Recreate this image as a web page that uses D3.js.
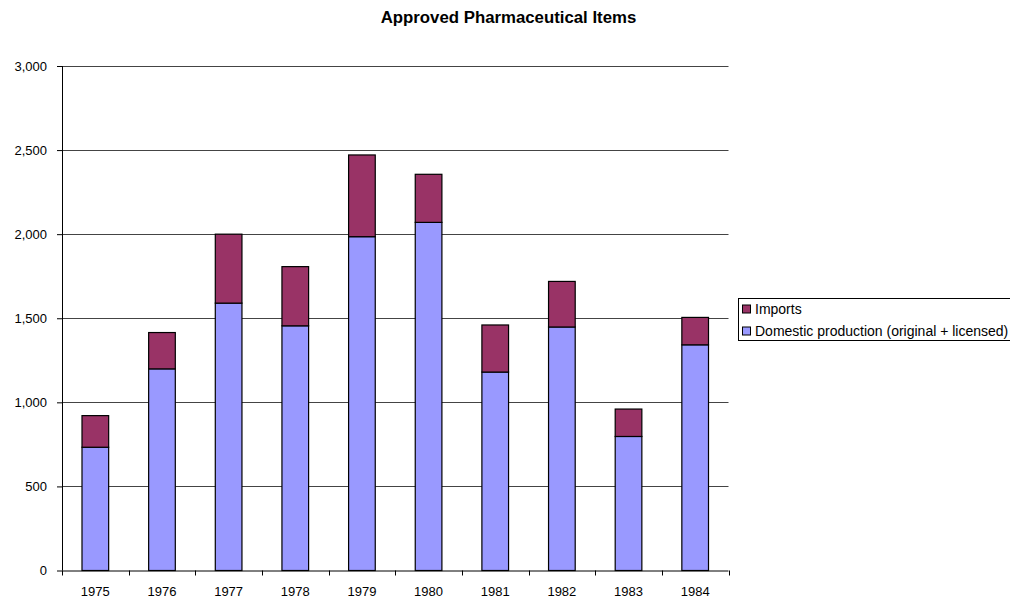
<!DOCTYPE html>
<html>
<head>
<meta charset="utf-8">
<script src="https://cdn.jsdelivr.net/npm/d3@7"></script>
<style>
  html, body { margin: 0; padding: 0; background: #fff; }
  svg { display: block; font-family: "Liberation Sans", Arial, sans-serif; }
</style>
</head>
<body>
<svg id="chart" width="1010" height="599"></svg>
<script>
// Approved pharmaceutical items per year, split by origin
const years = ["1975", "1976", "1977", "1978", "1979", "1980", "1981", "1982", "1983", "1984"];
const domestic = [733, 1199, 1590, 1455, 1985, 2070, 1180, 1448, 797, 1342];
const imports = [188, 216, 410, 352, 486, 286, 280, 271, 163, 163];
const yTicks = [0, 500, 1000, 1500, 2000, 2500, 3000];
const seriesNames = ["Domestic production (original + licensed)", "Imports"];
const seriesColors = ["#9999FF", "#993366"];

const svg = d3.select("#chart");
const plotLeft = 62, plotRight = 728.5, plotTop = 66, plotBottom = 570.5;

const x = d3.scaleBand().domain(years).range([plotLeft, plotRight]).paddingInner(0.6).paddingOuter(0.3);
const xBand = d3.scaleBand().domain(years).range([plotLeft, plotRight]);
const y = d3.scaleLinear().domain([0, 3000]).range([plotBottom, plotTop]);

// Title
svg.append("text")
  .attr("x", 508.5).attr("y", 23)
  .attr("text-anchor", "middle")
  .attr("font-size", 16.8).attr("font-weight", "bold")
  .text("Approved Pharmaceutical Items");

// Gridlines
svg.append("g").selectAll("line")
  .data(yTicks.filter(d => d > 0))
  .join("line")
  .attr("x1", plotLeft).attr("x2", plotRight)
  .attr("y1", d => Math.round(y(d)) + 0.5).attr("y2", d => Math.round(y(d)) + 0.5)
  .attr("stroke", "#444").attr("stroke-width", 1);

// Stacked bars
const rows = years.map((yr, i) => ({ year: yr, domestic: domestic[i], imports: imports[i] }));
const stack = d3.stack().keys(["domestic", "imports"])(rows);

svg.append("g").selectAll("g")
  .data(stack)
  .join("g")
  .attr("fill", (d, i) => seriesColors[i])
  .selectAll("rect")
  .data(d => d)
  .join("rect")
  .attr("x", d => x(d.data.year))
  .attr("width", x.bandwidth())
  .attr("y", d => y(d[1]))
  .attr("height", d => y(d[0]) - y(d[1]))
  .attr("stroke", "#000").attr("stroke-width", 1.2);

// Y axis
const yAxis = d3.axisLeft(y).tickValues(yTicks).tickSize(5).tickPadding(10)
  .tickFormat(d3.format(","));
const gy = svg.append("g").attr("transform", `translate(${plotLeft},0)`).call(yAxis);
gy.select(".domain").attr("stroke", "#000").attr("d", `M0.5,${plotTop}V${plotBottom}`);
gy.selectAll(".tick line").attr("stroke", "#000");
gy.selectAll(".tick text").attr("font-size", 13).attr("fill", "#000")
  .attr("font-family", "Liberation Sans, Arial, sans-serif");

// X axis: ticks sit between categories
const gx = svg.append("g").attr("transform", `translate(0,${plotBottom})`);
gx.append("line").attr("x1", plotLeft).attr("x2", plotRight).attr("y1", 0.5).attr("y2", 0.5).attr("stroke", "#000");
const boundaries = years.map(d => xBand(d)).concat([plotRight]);
gx.selectAll("line.tk").data(boundaries).join("line")
  .attr("class", "tk")
  .attr("x1", d => Math.round(d) + 0.5).attr("x2", d => Math.round(d) + 0.5)
  .attr("y1", 0).attr("y2", 5).attr("stroke", "#000");
gx.selectAll("text").data(years).join("text")
  .attr("x", d => xBand(d) + xBand.bandwidth() / 2)
  .attr("y", 25)
  .attr("text-anchor", "middle")
  .attr("font-size", 13)
  .text(d => d);

// Legend
const lg = svg.append("g").attr("transform", "translate(738.5,298.5)");
lg.append("rect").attr("width", 290).attr("height", 42).attr("fill", "#fff").attr("stroke", "#000");
const legendItems = [
  { name: seriesNames[1], color: seriesColors[1] },
  { name: seriesNames[0], color: seriesColors[0] }
];
const li = lg.selectAll("g.item").data(legendItems).join("g")
  .attr("class", "item")
  .attr("transform", (d, i) => `translate(0,${10.5 + i * 22})`);
li.append("rect").attr("x", 4).attr("y", -4).attr("width", 8).attr("height", 8)
  .attr("fill", d => d.color).attr("stroke", "#000");
li.append("text").attr("x", 16.5).attr("y", 4.5).attr("font-size", 14).text(d => d.name);
</script>
</body>
</html>
